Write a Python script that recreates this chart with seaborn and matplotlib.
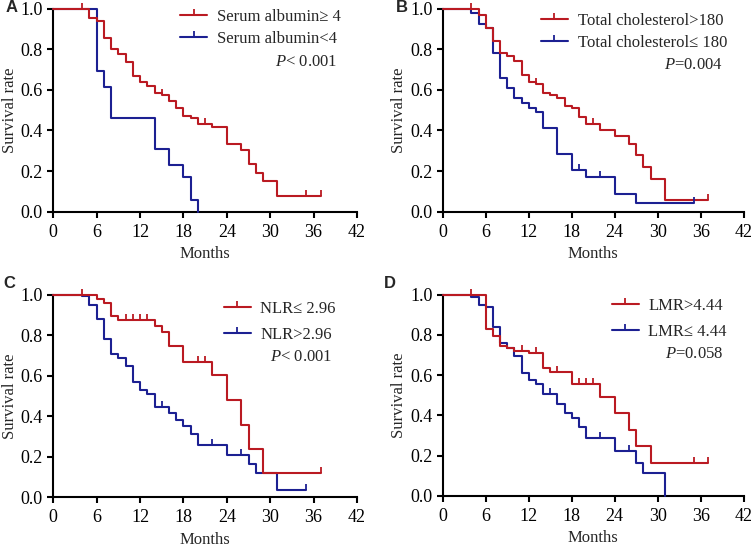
import numpy as np
import pandas as pd
import matplotlib
matplotlib.use("Agg")
import matplotlib.pyplot as plt
from matplotlib.lines import Line2D
import seaborn as sns

# ---------------- data ----------------
# Panel A: serum albumin
A_hi_t = [0, 5, 6, 7, 8, 9, 10, 11, 12, 13, 14, 15, 16, 17, 18, 19, 20, 22, 24, 26, 27, 28, 29, 31, 37]
A_hi_s = [1.0, 0.954, 0.939, 0.857, 0.803, 0.777, 0.739, 0.670, 0.638, 0.618, 0.582, 0.574, 0.546, 0.508, 0.471, 0.459, 0.434, 0.418, 0.331, 0.303, 0.233, 0.192, 0.151, 0.077, 0.077]
A_hi_c = [4, 15, 21, 35, 37]
A_lo_t = [0, 6, 7, 8, 14, 16, 18, 19, 20]
A_lo_s = [1.0, 0.692, 0.615, 0.462, 0.308, 0.231, 0.172, 0.057, 0.0]
A_lo_c = []

# Panel B: total cholesterol
B_hi_t = [0, 5, 6, 7, 8, 9, 10, 11, 12, 13, 14, 15, 16, 17, 18, 19, 20, 22, 24, 26, 27, 28, 29, 31, 37]
B_hi_s = [1.0, 0.970, 0.905, 0.839, 0.782, 0.768, 0.741, 0.672, 0.639, 0.628, 0.585, 0.574, 0.562, 0.520, 0.508, 0.464, 0.431, 0.402, 0.372, 0.333, 0.279, 0.221, 0.162, 0.057, 0.057]
B_hi_c = [4, 13, 21, 37]
B_lo_t = [0, 4, 5, 6, 7, 8, 9, 10, 11, 12, 13, 14, 16, 18, 20, 24, 27, 35]
B_lo_s = [1.0, 0.976, 0.924, 0.903, 0.780, 0.658, 0.610, 0.559, 0.533, 0.512, 0.489, 0.410, 0.282, 0.205, 0.172, 0.087, 0.044, 0.044]
B_lo_c = [19, 22, 35]

# Panel C: NLR
C_lo_t = [0, 6, 7, 8, 9, 14, 15, 16, 18, 22, 24, 26, 27, 29, 37]
C_lo_s = [1.0, 0.979, 0.957, 0.893, 0.875, 0.847, 0.814, 0.748, 0.669, 0.602, 0.482, 0.357, 0.240, 0.120, 0.120]
C_lo_c = [4, 10, 11, 12, 13, 20, 21, 37]
C_hi_t = [0, 4, 5, 6, 7, 8, 9, 10, 11, 12, 13, 14, 16, 17, 18, 19, 20, 24, 27, 28, 31, 35]
C_hi_s = [1.0, 0.993, 0.947, 0.880, 0.781, 0.709, 0.686, 0.647, 0.567, 0.528, 0.512, 0.447, 0.418, 0.383, 0.353, 0.311, 0.258, 0.210, 0.165, 0.120, 0.037, 0.037]
C_hi_c = [15, 22, 26, 35]

# Panel D: LMR
D_hi_t = [0, 6, 7, 8, 9, 10, 12, 14, 15, 18, 22, 24, 26, 27, 29, 37]
D_hi_s = [1.0, 0.829, 0.796, 0.743, 0.733, 0.721, 0.708, 0.637, 0.614, 0.554, 0.489, 0.410, 0.326, 0.246, 0.164, 0.164]
D_hi_c = [4, 11, 13, 16, 19, 20, 21, 35, 37]
D_lo_t = [0, 4, 5, 6, 7, 8, 9, 10, 11, 12, 13, 14, 16, 17, 18, 19, 20, 24, 27, 28, 31]
D_lo_s = [1.0, 0.99, 0.947, 0.939, 0.841, 0.761, 0.735, 0.697, 0.612, 0.576, 0.555, 0.507, 0.456, 0.411, 0.386, 0.340, 0.287, 0.223, 0.165, 0.112, 0.0]
D_lo_c = [15, 22, 26]

panel_letters = ["A", "B", "C", "D"]
legend_labels = [
    ["Serum albumin\u2265 4", "Serum albumin<4"],
    ["Total cholesterol>180", "Total cholesterol\u2264 180"],
    ["NLR\u2264 2.96", "NLR>2.96"],
    ["LMR>4.44", "LMR\u2264 4.44"],
]
p_texts = [r"$\mathit{P}$< 0.001", r"$\mathit{P}$=0.004", r"$\mathit{P}$< 0.001", r"$\mathit{P}$=0.058"]
x_ticks = [0, 6, 12, 18, 24, 30, 36, 42]
y_ticks = [0.0, 0.2, 0.4, 0.6, 0.8, 1.0]

# ---------------- style ----------------
sns.set_style("ticks")
plt.rcParams["font.family"] = ["Liberation Serif", "DejaVu Serif"]
plt.rcParams["mathtext.fontset"] = "custom"
plt.rcParams["mathtext.it"] = "Liberation Serif:italic"
plt.rcParams["mathtext.rm"] = "Liberation Serif"

RED = "#BA1A22"
BLUE = "#1C2092"
FS = 12
LW = 1.5

W, H = 753, 548
fig = plt.figure(figsize=(W / 100, H / 100), dpi=100)

# axes boxes in pixels: left, right, top, bottom
boxes = [
    (53.3, 357.0, 8.5, 211.7),
    (442.7, 743.7, 8.5, 211.7),
    (53.3, 357.0, 294.7, 497.3),
    (442.7, 743.7, 294.7, 495.7),
]
letter_pos = [(12, 8), (402, 8), (9, 284), (390, 284)]
leg_cfg = [  # (legend right x px, first row y px, row spacing px, P y px)
    (337, 17, 21, 62),
    (723, 21, 21, 65),
    (332, 309, 25, 357),
    (723, 306, 25, 354),
]

series = [
    (A_hi_t, A_hi_s, A_hi_c, A_lo_t, A_lo_s, A_lo_c),
    (B_hi_t, B_hi_s, B_hi_c, B_lo_t, B_lo_s, B_lo_c),
    (C_lo_t, C_lo_s, C_lo_c, C_hi_t, C_hi_s, C_hi_c),
    (D_hi_t, D_hi_s, D_hi_c, D_lo_t, D_lo_s, D_lo_c),
]


def censor_y(t, s, c):
    t = np.asarray(t, float)
    s = np.asarray(s, float)
    idx = np.searchsorted(t, np.asarray(c, float), side="right") - 1
    return s[idx]


for i, (box, data) in enumerate(zip(boxes, series)):
    l, r, t, b = box
    ax = fig.add_axes([l / W, 1 - b / H, (r - l) / W, (b - t) / H])
    r_t, r_s, r_c, b_t, b_s, b_c = data
    for tt, ss, cc, col in [(b_t, b_s, b_c, BLUE), (r_t, r_s, r_c, RED)]:
        df = pd.DataFrame({"t": tt, "s": ss})
        sns.lineplot(data=df, x="t", y="s", ax=ax, drawstyle="steps-post",
                     color=col, lw=LW, estimator=None, sort=False,
                     legend=False, clip_on=False, zorder=3)
        if len(cc):
            ax.plot(cc, censor_y(tt, ss, cc), ls="none", marker=2, ms=4,
                    mew=1.3, color=col, clip_on=False, zorder=4)
    ax.set_xlim(0, 42)
    ax.set_ylim(0, 1.0)
    ax.set_xticks(x_ticks)
    ax.set_yticks(y_ticks)
    ax.set_yticklabels([f"{v:.1f}" for v in y_ticks])
    for sp in ["top", "right"]:
        ax.spines[sp].set_visible(False)
    for sp in ["left", "bottom"]:
        ax.spines[sp].set_linewidth(1.5)
        ax.spines[sp].set_color("black")
    ax.tick_params(direction="out", length=4.5, width=1.5, labelsize=13,
                   colors="black", pad=3)
    ax.tick_params(axis="x", pad=4)
    ax.set_xlabel("Months", fontsize=FS, labelpad=4)
    ax.set_ylabel("Survival rate", fontsize=FS, labelpad=2)

    # legend
    lx, ly, dy, py = leg_cfg[i]
    handles = [
        Line2D([0], [0], color=RED, lw=LW, marker=2, ms=4, mew=1.3),
        Line2D([0], [0], color=BLUE, lw=LW, marker=2, ms=4, mew=1.3),
    ]
    ax_h = b - t
    ax_w = r - l
    leg = ax.legend(handles, legend_labels[i], loc="upper right",
                    bbox_to_anchor=((lx - l + 4) / ax_w, 1 - (ly - t - 8) / ax_h),
                    frameon=False, fontsize=FS, handlelength=1.6,
                    handletextpad=0.6, labelspacing=(dy - 15) / 16.7,
                    borderaxespad=0, borderpad=0)
    ax.text((lx - l) / ax_w, 1 - (py - t) / ax_h, p_texts[i], transform=ax.transAxes,
            ha="right", va="center", fontsize=FS)

    fig.text(letter_pos[i][0] / W, 1 - letter_pos[i][1] / H, panel_letters[i],
             fontsize=12, fontweight="bold", family="Liberation Sans",
             ha="center", va="center")

fig.savefig("out.png", dpi=100)
